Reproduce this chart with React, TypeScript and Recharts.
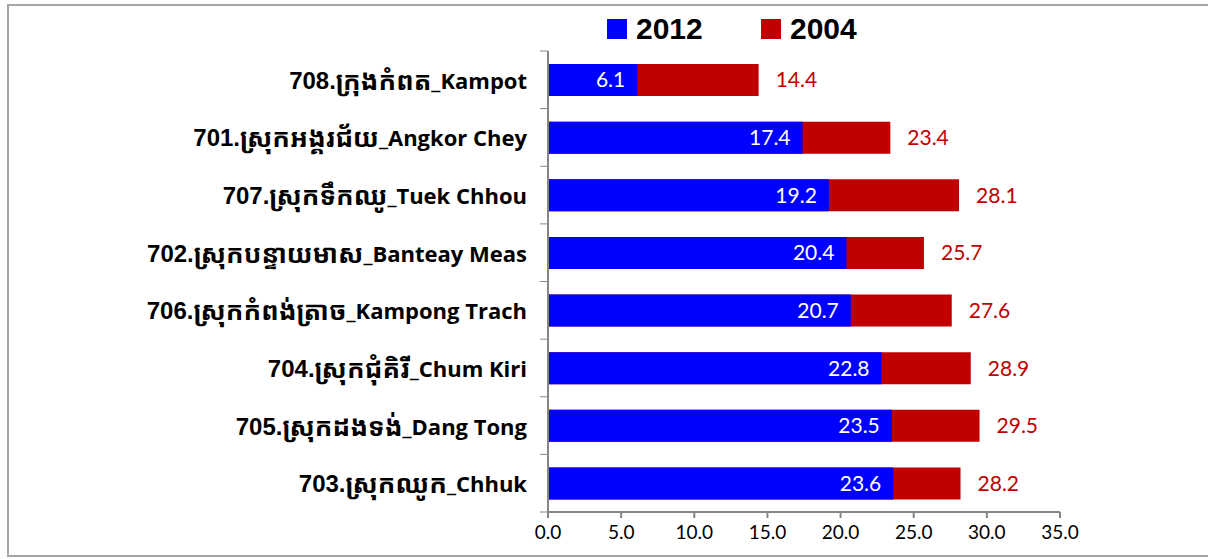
import React from 'react';
import { BarChart, Bar, XAxis, YAxis, LabelList } from 'recharts';

const codes = ['708.', '701.', '707.', '702.', '706.', '704.', '705.', '703.'];
const khmerNames = ['ក្រុងកំពត', 'ស្រុកអង្គរជ័យ', 'ស្រុកទឹកឈូ', 'ស្រុកបន្ទាយមាស', 'ស្រុកកំពង់ត្រាច', 'ស្រុកជុំគិរី', 'ស្រុកដងទង់', 'ស្រុកឈូក'];
const latinNames = ['_Kampot', '_Angkor Chey', '_Tuek Chhou', '_Banteay Meas', '_Kampong Trach', '_Chum Kiri', '_Dang Tong', '_Chhuk'];
const values2012 = [6.1, 17.4, 19.2, 20.4, 20.7, 22.8, 23.5, 23.6];
const values2004 = [14.4, 23.4, 28.1, 25.7, 27.6, 28.9, 29.5, 28.2];
const xTicks = [0, 5, 10, 15, 20, 25, 30, 35];
const seriesNames = ['2012', '2004'];

const data = codes.map((c, i) => ({
  name: c + khmerNames[i] + latinNames[i],
  v2012: values2012[i],
  v2004: values2004[i],
}));

const BLUE = '#0000ff';
const RED = '#c00000';
const AXIS = '#868686';
const PLOT_LEFT = 548;
const PLOT_TOP = 51;
const PLOT_BOTTOM = 512;
const BAND = (PLOT_BOTTOM - PLOT_TOP) / codes.length;

const YTick = (props: any) => {
  const { x, y, payload, index } = props;
  const i = data.findIndex((d) => d.name === payload.value);
  return (
    <g>
      <line x1={PLOT_LEFT - 8} x2={PLOT_LEFT} y1={y - BAND / 2} y2={y - BAND / 2} stroke={AXIS} strokeWidth={1} />
      {index === codes.length - 1 && (
        <line x1={PLOT_LEFT - 8} x2={PLOT_LEFT} y1={y + BAND / 2} y2={y + BAND / 2} stroke={AXIS} strokeWidth={1} />
      )}
      <text x={x - 13} y={y} textAnchor="end" dominantBaseline="central" fill="#000" fontWeight="bold">
        <tspan fontFamily="'Liberation Sans', Arial, sans-serif" fontSize={24}>{codes[i]}</tspan>
        <tspan fontFamily="'Noto Sans Khmer', 'Khmer OS', 'Liberation Sans', sans-serif" fontSize={26}>{khmerNames[i]}</tspan>
        <tspan fontFamily="'Open Sans', sans-serif" fontSize={22}>{latinNames[i]}</tspan>
      </text>
    </g>
  );
};

const LegendBox = () => (
  <div style={{ position: 'absolute', left: 0, top: 0, width: 1208, height: 45, fontFamily: "'Liberation Sans', Arial, sans-serif", fontWeight: 'bold', fontSize: 30, color: '#000' }}>
    <div style={{ position: 'absolute', left: 607, top: 19, width: 20, height: 20, background: BLUE }} />
    <div style={{ position: 'absolute', left: 636, top: 11, lineHeight: '36px' }}>{seriesNames[0]}</div>
    <div style={{ position: 'absolute', left: 761, top: 19, width: 20, height: 20, background: RED }} />
    <div style={{ position: 'absolute', left: 790, top: 11, lineHeight: '36px' }}>{seriesNames[1]}</div>
  </div>
);

export default function App() {
  return (
    <div style={{ position: 'absolute', left: 0, top: 0, width: 1208, height: 559, overflow: 'hidden', background: '#fff' }}>
      <div style={{ position: 'absolute', left: 7, top: 4, width: 1220, height: 553, border: '2px solid #a6a6a6', boxSizing: 'border-box' }} />
      <div style={{ position: 'absolute', left: 0, top: 0 }}>
        <BarChart
          width={1208}
          height={559}
          data={data}
          layout="vertical"
          margin={{ top: PLOT_TOP, right: 148, bottom: 17, left: 0 }}
          barCategoryGap={0}
        >
          <XAxis
            type="number"
            domain={[0, 35]}
            ticks={xTicks}
            tickFormatter={(v: number) => v.toFixed(1)}
            axisLine={{ stroke: AXIS, strokeWidth: 2 }}
            tickLine={{ stroke: AXIS, strokeWidth: 2 }}
            tickSize={6}
            tickMargin={8}
            height={30}
            tick={{ fill: '#000', fontSize: 19, fontFamily: 'Lato, sans-serif' }}
            interval={0}
          />
          <YAxis
            yAxisId="a"
            type="category"
            dataKey="name"
            width={PLOT_LEFT}
            axisLine={{ stroke: AXIS, strokeWidth: 2 }}
            tickLine={false}
            tick={<YTick />}
            interval={0}
          />
          <YAxis yAxisId="b" type="category" dataKey="name" hide />
          <Bar yAxisId="a" dataKey="v2004" name={seriesNames[1]} fill={RED} barSize={32} isAnimationActive={false}>
            <LabelList dataKey="v2004" position="right" offset={17} fill={RED} fontSize={21} fontFamily="Lato, sans-serif" formatter={(v: number) => v.toFixed(1)} />
          </Bar>
          <Bar yAxisId="b" dataKey="v2012" name={seriesNames[0]} fill={BLUE} barSize={32} isAnimationActive={false}>
            <LabelList dataKey="v2012" position="insideRight" offset={12} fill="#fff" fontSize={21} fontFamily="Lato, sans-serif" formatter={(v: number) => v.toFixed(1)} />
          </Bar>
        </BarChart>
      </div>
      <LegendBox />
    </div>
  );
}
